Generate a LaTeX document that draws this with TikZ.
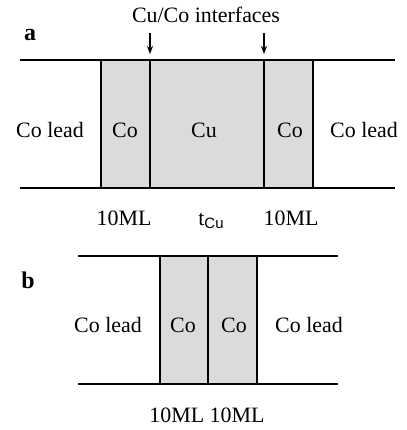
\documentclass[tikz,border=0pt]{standalone}
\usepackage{fontspec}
\setmainfont{Liberation Serif}
\setsansfont{Liberation Sans}
\usetikzlibrary{arrows.meta}
\begin{document}
\begin{tikzpicture}[x=1bp, y=-1bp, font=\fontsize{22}{26}\selectfont,
		lbl/.style={anchor=base, inner sep=0pt},
		film/.style={line width=2.8bp},
		wall/.style={line width=2.3bp},
		slab/.style={fill=black!14}]
		\useasboundingbox (0,0) rectangle (407,430);
		
		% panel a
		\fill[slab] (101,60) rectangle (313,188);
		\draw[film] (20,60) -- (395,60);
		\draw[film] (20,188) -- (395,188);
		\foreach \x in {101,150,264,313} \draw[wall] (\x,60) -- (\x,188);
		\node[lbl, font=\fontsize{24}{26}\selectfont\bfseries] (pa) at (30,40) {a};
		\node[lbl] (ifc) at (206,22) {Cu/Co interfaces};
		\coordinate (ia1) at (150,33);
		\coordinate (ia2) at (150,54);
		\coordinate (ib1) at (264,33);
		\coordinate (ib2) at (264,54);
		\draw[-{Stealth[length=8bp,width=6bp]}, line width=1.6bp] (ia1) -- (ia2);
		\draw[-{Stealth[length=8bp,width=6bp]}, line width=1.6bp] (ib1) -- (ib2);
		\node[lbl] (leadal) at (50,137) {Co lead};
		\node[lbl] (coal) at (125,137) {Co};
		\node[lbl] (cua) at (204,137) {Cu};
		\node[lbl] (coar) at (290,137) {Co};
		\node[lbl] (leadar) at (364,137) {Co lead};
		\node[lbl] (mla) at (124,225) {10ML};
		\node[lbl] (tcu) at (211,225) {t\raisebox{-0.35ex}{\fontsize{15}{16}\sffamily Cu}};
		\node[lbl] (mlb) at (291,225) {10ML};
		
		% panel b
		\fill[slab] (160,256) rectangle (257,384);
		\draw[film] (78,256) -- (338,256);
		\draw[film] (78,384) -- (338,384);
		\foreach \x in {160,208,257} \draw[wall] (\x,256) -- (\x,384);
		\node[lbl, font=\fontsize{24}{26}\selectfont\bfseries] (pb) at (28,288) {b};
		\node[lbl] (leadbl) at (108,332) {Co lead};
		\node[lbl] (cobl) at (183,332) {Co};
		\node[lbl] (cobr) at (234,332) {Co};
		\node[lbl] (leadbr) at (309,332) {Co lead};
		\node[lbl] (mlc) at (207,422) {10ML 10ML};
	\end{tikzpicture}
\end{document}
